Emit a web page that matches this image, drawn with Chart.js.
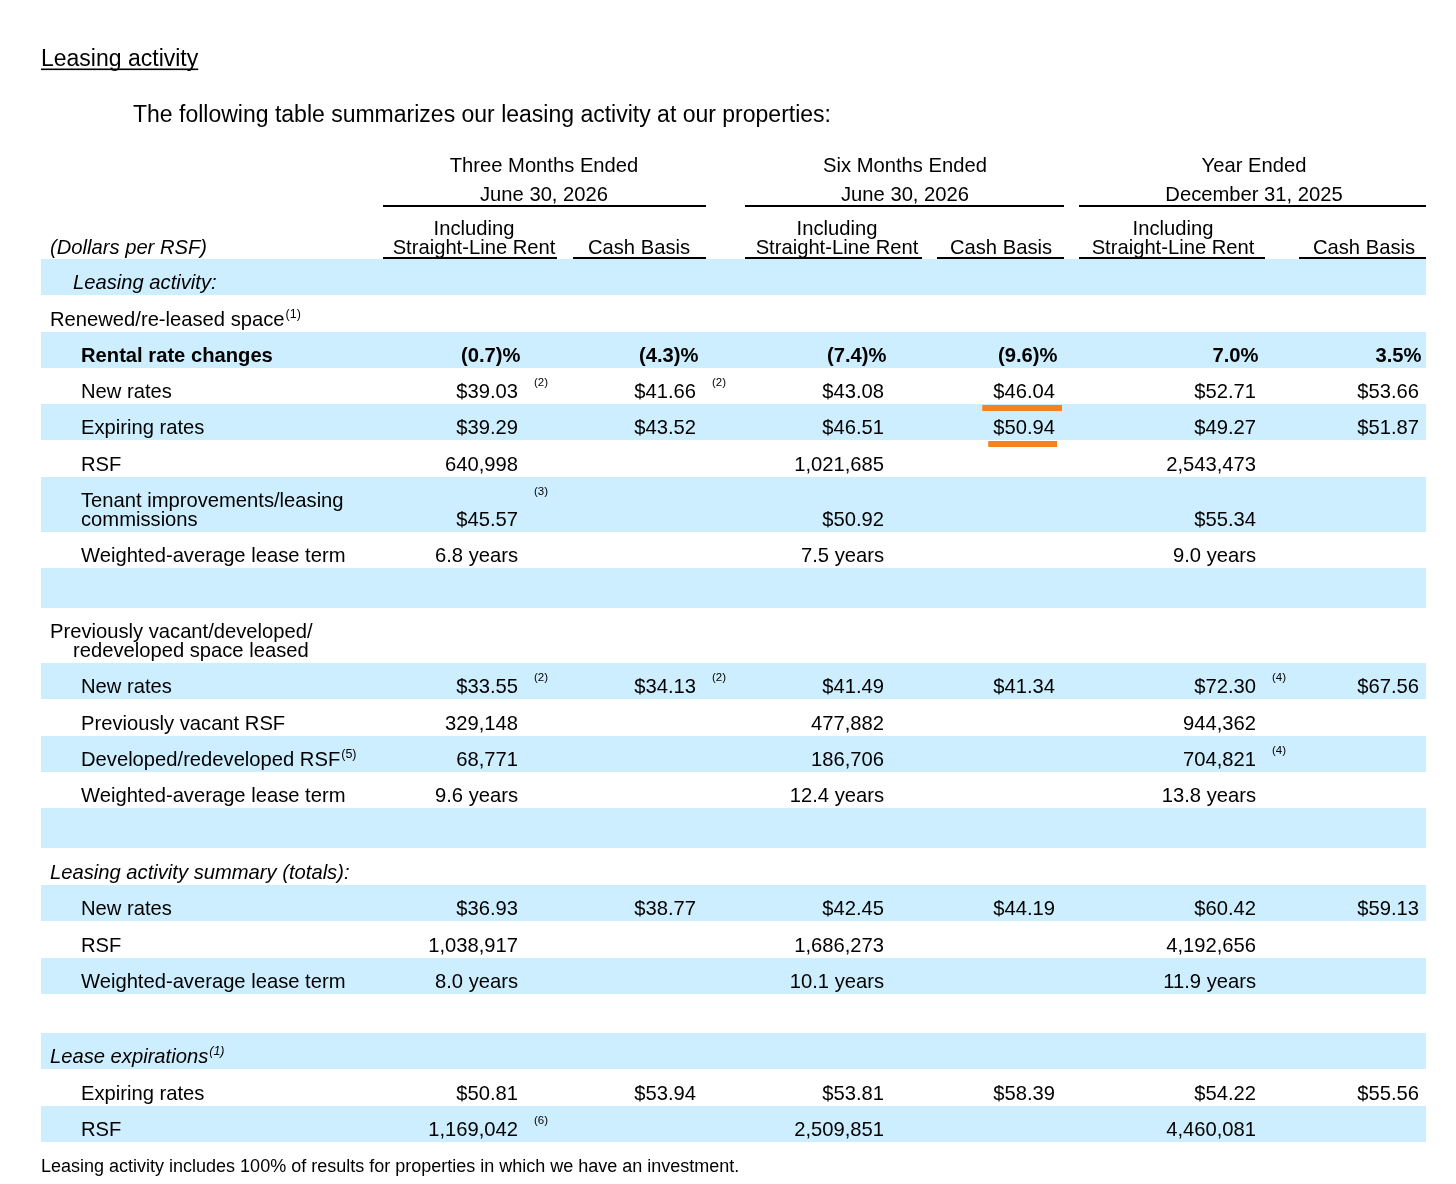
<!DOCTYPE html>
<html>
<head>
<meta charset="utf-8">
<script src="https://cdn.jsdelivr.net/npm/chart.js@4.4.1/dist/chart.umd.min.js"></script>
<style>
  html, body { margin: 0; background: #fff; }
  canvas { display: block; }
</style>
</head>
<body>
<canvas id="table" width="1456" height="1184"></canvas>
<script>
// ---- data ----
const title = 'Leasing activity';
const subtitle = 'The following table summarizes our leasing activity at our properties:';
const footnote = 'Leasing activity includes 100% of results for properties in which we have an investment.';

const periods = ['Three Months Ended', 'Six Months Ended', 'Year Ended'];
const periodDates = ['June 30, 2026', 'June 30, 2026', 'December 31, 2025'];
const basisHeads = [['Including', 'Straight-Line Rent'], ['Cash Basis']];
const unitsLabel = '(Dollars per RSF)';

const rowLabels = [
  'Leasing activity:', 'Renewed/re-leased space', 'Rental rate changes', 'New rates', 'Expiring rates', 'RSF',
  'Tenant improvements/leasing\ncommissions', 'Weighted-average lease term', '',
  'Previously vacant/developed/\nredeveloped space leased', 'New rates', 'Previously vacant RSF',
  'Developed/redeveloped RSF', 'Weighted-average lease term', '',
  'Leasing activity summary (totals):', 'New rates', 'RSF', 'Weighted-average lease term', '',
  'Lease expirations', 'Expiring rates', 'RSF'
];
const rowKinds = [
  '', '', 'pct', 'usd', 'usd', 'int', 'usd', 'yrs', '',
  '', 'usd', 'int', 'int', 'yrs', '',
  '', 'usd', 'int', 'yrs', '',
  '', 'usd', 'int'
];

const threeMonthsSL   = [null, null, -0.7, 39.03, 39.29, 640998, 45.57, 6.8, null, null, 33.55, 329148, 68771, 9.6, null, null, 36.93, 1038917, 8.0, null, null, 50.81, 1169042];
const threeMonthsCash = [null, null, -4.3, 41.66, 43.52, null, null, null, null, null, 34.13, null, null, null, null, null, 38.77, null, null, null, null, 53.94, null];
const sixMonthsSL     = [null, null, -7.4, 43.08, 46.51, 1021685, 50.92, 7.5, null, null, 41.49, 477882, 186706, 12.4, null, null, 42.45, 1686273, 10.1, null, null, 53.81, 2509851];
const sixMonthsCash   = [null, null, -9.6, 46.04, 50.94, null, null, null, null, null, 41.34, null, null, null, null, null, 44.19, null, null, null, null, 58.39, null];
const yearSL          = [null, null, 7.0, 52.71, 49.27, 2543473, 55.34, 9.0, null, null, 72.30, 944362, 704821, 13.8, null, null, 60.42, 4192656, 11.9, null, null, 54.22, 4460081];
const yearCash        = [null, null, 3.5, 53.66, 51.87, null, null, null, null, null, 67.56, null, null, null, null, null, 59.13, null, null, null, null, 55.56, null];

// [row, column, marker]
const cellNotes = [[3, 0, '(2)'], [3, 1, '(2)'], [6, 0, '(3)'], [10, 0, '(2)'], [10, 1, '(2)'], [10, 4, '(4)'], [12, 4, '(4)'], [22, 0, '(6)']];
const labelNotes = { 1: '(1)', 12: '(5)', 20: '(1)' };
// cells marked in orange: [row, column]
const marked = [[3, 3], [4, 3]];

// ---- layout ----
const FONT = '"Liberation Sans", Arial, Helvetica, sans-serif';
const BAND = '#cdeefe';
const ORANGE = '#f5821f';
const TABLE_TOP = 259, BAND_L = 41, BAND_R = 1426;
const rowHeights = [36, 37, 36, 36, 36, 37, 55, 36, 40, 55, 36, 37, 36, 36, 40, 37, 36, 37, 36, 39, 36, 37, 36];
const shaded = [1, 0, 1, 0, 1, 0, 1, 0, 1, 0, 1, 0, 1, 0, 1, 0, 1, 0, 1, 0, 1, 0, 1];
const labelX = [73, 50, 81, 81, 81, 81, 81, 81, 0, 50, 81, 81, 81, 81, 0, 50, 81, 81, 81, 0, 50, 81, 81];
const labelStyle = { 0: 'italic', 2: 'bold', 15: 'italic', 20: 'italic' };
const colRight = [518, 696, 884, 1055, 1256, 1419];
const PCT_SHIFT = 2.5;
const groupCenter = [544, 905, 1254];
const groupRule = [[383, 706], [745, 1064], [1079, 1426]];
const subCenter = [474, 639, 837, 1001, 1173, 1364];
const subRule = [[383, 557], [573, 706], [745, 922], [937, 1064], [1079, 1265], [1299, 1426]];
const markPad = [[11, 7], [5, 2]];
const TXT = 20.2, SUP = 11.5;

const columns = [threeMonthsSL, threeMonthsCash, sixMonthsSL, sixMonthsCash, yearSL, yearCash];

function fmt(kind, v) {
  if (v === null || v === undefined) return '';
  if (kind === 'pct') return v < 0 ? '(' + Math.abs(v).toFixed(1) + ')%' : v.toFixed(1) + '%';
  if (kind === 'usd') return '$' + v.toFixed(2);
  if (kind === 'int') return v.toLocaleString('en-US');
  if (kind === 'yrs') return v.toFixed(1) + ' years';
  return String(v);
}

const rowTops = [];
rowHeights.reduce((top, h) => { rowTops.push(top); return top + h; }, TABLE_TOP);

const tablePlugin = {
  id: 'tablePlugin',
  beforeDatasetsDraw(chart) {
    const { ctx, scales: { x, y } } = chart;
    const X = v => x.getPixelForValue(v), Y = v => y.getPixelForValue(v);
    ctx.save();
    // row bands
    ctx.fillStyle = BAND;
    rowHeights.forEach((h, i) => {
      if (!shaded[i]) return;
      ctx.fillRect(X(BAND_L), Y(rowTops[i]), X(BAND_R) - X(BAND_L), Y(rowTops[i] + h) - Y(rowTops[i]));
    });
    ctx.restore();
  },
  afterDatasetsDraw(chart) {
    const { ctx, scales: { x, y } } = chart;
    const X = v => x.getPixelForValue(v), Y = v => y.getPixelForValue(v);
    const font = (size, style) => (style ? style + ' ' : '') + size + 'px ' + FONT;
    ctx.save();
    ctx.fillStyle = '#000';
    ctx.textBaseline = 'alphabetic';

    // title + subtitle
    ctx.font = font(23);
    ctx.textAlign = 'left';
    ctx.fillText(title, X(41), Y(66));
    const tw = ctx.measureText(title).width;
    ctx.fillRect(X(41), Y(68.5), tw, 1.6);
    ctx.font = font(23);
    ctx.fillText(subtitle, X(133), Y(122));

    // column headers
    ctx.font = font(TXT);
    ctx.textAlign = 'center';
    periods.forEach((p, g) => {
      ctx.fillText(p, X(groupCenter[g]), Y(172));
      ctx.fillText(periodDates[g], X(groupCenter[g]), Y(201));
      ctx.fillRect(X(groupRule[g][0]), Y(205), X(groupRule[g][1]) - X(groupRule[g][0]), 2);
    });
    subCenter.forEach((c, k) => {
      const head = basisHeads[k % 2];
      if (head.length === 2) {
        ctx.fillText(head[0], X(c), Y(235));
        ctx.fillText(head[1], X(c), Y(254));
      } else {
        ctx.fillText(head[0], X(c), Y(254));
      }
      ctx.fillRect(X(subRule[k][0]), Y(257), X(subRule[k][1]) - X(subRule[k][0]), 2);
    });
    ctx.textAlign = 'left';
    ctx.font = font(TXT, 'italic');
    ctx.fillText(unitsLabel, X(50), Y(254));

    // row labels
    rowLabels.forEach((label, i) => {
      if (!label) return;
      const bottom = rowTops[i] + rowHeights[i];
      const style = labelStyle[i] || '';
      ctx.font = font(TXT, style);
      ctx.textAlign = 'left';
      const lines = label.split('\n');
      if (lines.length === 2) {
        ctx.fillText(lines[0], X(labelX[i]), Y(bottom - 25));
        const indent = i === 9 ? 23 : 0;
        ctx.fillText(lines[1], X(labelX[i] + indent), Y(bottom - 6));
      } else {
        ctx.fillText(label, X(labelX[i]), Y(bottom - 6));
        if (labelNotes[i]) {
          const w = ctx.measureText(label).width;
          ctx.font = font(SUP + 1, style);
          ctx.fillText(labelNotes[i], X(labelX[i]) + w + 1, Y(bottom - 14));
        }
      }
    });

    // values
    columns.forEach((col, c) => {
      col.forEach((v, i) => {
        const text = fmt(rowKinds[i], v);
        if (!text) return;
        const bottom = rowTops[i] + rowHeights[i];
        ctx.font = font(TXT, i === 2 ? 'bold' : '');
        ctx.textAlign = 'right';
        const shift = rowKinds[i] === 'pct' ? PCT_SHIFT : 0;
        ctx.fillText(text, X(colRight[c] + shift), Y(bottom - 6));
      });
    });

    // cell footnote markers
    ctx.font = font(SUP);
    ctx.textAlign = 'left';
    cellNotes.forEach(([r, c, m]) => {
      ctx.fillText(m, X(colRight[c] + 16), Y(rowTops[r] + 18));
    });

    // orange marks under highlighted cells
    ctx.fillStyle = ORANGE;
    marked.forEach(([r, c], k) => {
      ctx.font = font(TXT);
      const text = fmt(rowKinds[r], columns[c][r]);
      const w = ctx.measureText(text).width;
      const bottom = rowTops[r] + rowHeights[r];
      const x0 = X(colRight[c]) - w - markPad[k][0];
      const x1 = X(colRight[c]) + markPad[k][1];
      ctx.fillRect(x0, Y(bottom + 1), x1 - x0, 6);
    });

    // footnote
    ctx.fillStyle = '#000';
    ctx.font = font(18);
    ctx.textAlign = 'left';
    ctx.fillText(footnote, X(41), Y(1172));
    ctx.restore();
  }
};

new Chart(document.getElementById('table'), {
  type: 'scatter',
  data: { datasets: [{ data: [], pointRadius: 0 }] },
  options: {
    responsive: false,
    animation: false,
    layout: { padding: 0 },
    plugins: { legend: { display: false }, tooltip: { enabled: false } },
    scales: {
      x: { type: 'linear', min: 0, max: 1456, display: false },
      y: { type: 'linear', min: 0, max: 1184, reverse: true, display: false }
    }
  },
  plugins: [tablePlugin]
});
</script>
</body>
</html>
